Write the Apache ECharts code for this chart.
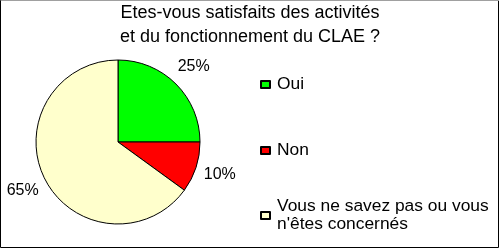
<!DOCTYPE html>
<html>
<head>
<meta charset="utf-8">
<script src="https://cdn.jsdelivr.net/npm/echarts@6/dist/echarts.min.js"></script>
<style>
html,body{margin:0;padding:0;background:#fff;}
#chart{width:500px;height:249px;}
</style>
</head>
<body>
<div id="chart"></div>
<script>
var titleLines = ['Etes-vous satisfaits des activités', 'et du fonctionnement du CLAE ?'];
var categories = ['Oui', 'Non', "Vous ne savez pas ou vous n'êtes concernés"];
var legendLabels = ['Oui', 'Non', "Vous ne savez pas ou vous\nn'êtes concernés"];
var values = [25, 10, 65];
var colors = ['#00ff00', '#ff0000', '#ffffcc'];

var FONT = "'Liberation Sans', Arial, sans-serif";
var chart = echarts.init(document.getElementById('chart'), null, {renderer: 'canvas'});

function makeLegend(i, top, extraTop) {
  return {
    data: [categories[i]],
    orient: 'vertical',
    left: 260,
    top: top,
    padding: 0,
    itemWidth: 9,
    itemHeight: 7,
    itemGap: 0,
    icon: 'rect',
    selectedMode: false,
    formatter: function () { return legendLabels[i]; },
    textStyle: {
      fontFamily: FONT,
      fontSize: 17.4,
      lineHeight: 18,
      color: '#000',
      padding: [extraTop, 0, 5, 2]
    }
  };
}

chart.setOption({
  animation: false,
  title: {
    text: titleLines.join('\n'),
    left: 'center',
    top: 0,
    padding: [1, 0, 0, 8],
    textStyle: {
      fontFamily: FONT,
      fontSize: 18,
      fontWeight: 'normal',
      lineHeight: 24,
      color: '#000'
    }
  },
  legend: [makeLegend(0, 73, 0), makeLegend(1, 139, 0), makeLegend(2, 186, 18)],
  graphic: [
    {type: 'rect', shape: {x: 0.5, y: 0.5, width: 498, height: 247}, style: {fill: 'none', stroke: '#000', lineWidth: 1}, silent: true},
    {type: 'line', shape: {x1: 1, y1: 0.5, x2: 499, y2: 0.5}, style: {stroke: '#a0a0a0', lineWidth: 1}, silent: true}
  ],
  series: [{
    type: 'pie',
    center: [118, 142],
    radius: 82,
    startAngle: 90,
    clockwise: true,
    avoidLabelOverlap: false,
    itemStyle: {borderColor: '#000', borderWidth: 1},
    emphasis: {disabled: true},
    label: {
      show: true,
      position: 'outside',
      formatter: '{c}%',
      fontFamily: FONT,
      fontSize: 16,
      color: '#000',
      distanceToLabelLine: 0
    },
    labelLine: {show: false, length: 25, length2: 0},
    labelLayout: function () { return {align: 'center', verticalAlign: 'middle'}; },
    data: categories.map(function (c, i) {
      return {name: c, value: values[i], itemStyle: {color: colors[i]}};
    })
  }]
});
</script>
</body>
</html>
